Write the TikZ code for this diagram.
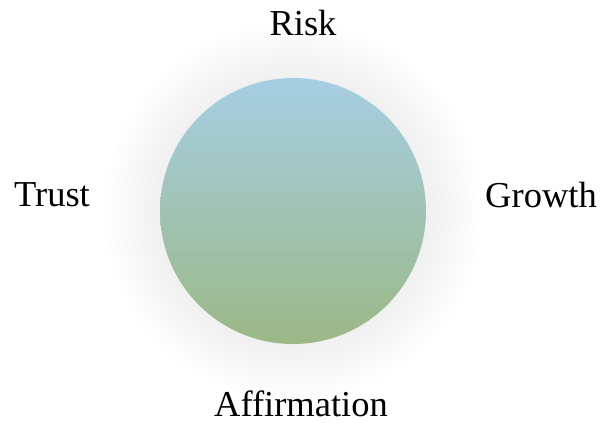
\documentclass[tikz,border=0pt]{standalone}
\usepackage{fontspec}
\setmainfont{Liberation Serif}
\usepackage{tikz}
\usetikzlibrary{positioning}
\usepackage{xcolor}
\definecolor{skyblue}{RGB}{166,206,227}
\definecolor{sagemid}{RGB}{148,178,164}
\definecolor{sagegreen}{RGB}{156,184,134}
\tikzset{
    core/.style={
        circle,
        minimum size=266pt,
        inner sep=0pt,
        top color=skyblue,
        middle color=sagemid,
        bottom color=sagegreen
    },
    word/.style={
        anchor=base,
        font=\fontsize{36.5}{40}\selectfont
    }
}

\begin{document}
\begin{tikzpicture}[x=1pt, y=-1pt]
    \useasboundingbox[fill=white] (0,0) rectangle (600,423);

    % Soft glow behind the circle
    \foreach \r in {0,...,14} {
        \fill[black, opacity=0.005] (293,211) circle[radius=134+4*\r];
    }

    % Central circle
    \node[core] (centre) at (293,211) {};

    % Labels round it
    \node[word] (risk) at (303,35) {Risk};
    \node[word] (trust) at (52,206) {Trust};
    \node[word] (growth) at (541,207) {Growth};
    \node[word] (affirm) at (301,416) {Affirmation};
\end{tikzpicture}
\end{document}
